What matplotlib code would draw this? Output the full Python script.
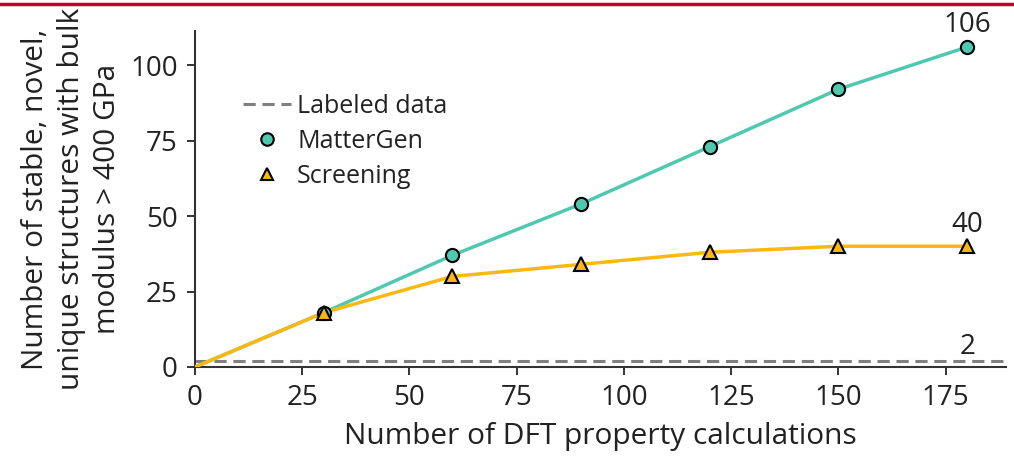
import matplotlib
matplotlib.use("Agg")
import matplotlib.pyplot as plt
from matplotlib.lines import Line2D

plt.rcParams['font.family'] = ['Open Sans', 'DejaVu Sans']

# Data
dft_calcs = [0, 30, 60, 90, 120, 150, 180]
mattergen = [0, 18, 37, 54, 73, 92, 106]
screening = [0, 18, 30, 34, 38, 40, 40]
labeled_data = 2

teal = "#4EC9B0"
gold = "#FBB80F"
text_color = "#222222"

fig = plt.figure(figsize=(10.14, 4.58), dpi=100)
ax = fig.add_axes([0.1923, 0.1987, 0.7995, 0.7336])

ax.axhline(labeled_data, color="#808080", lw=2.2, ls=(0, (4, 2.2)), zorder=1)
ax.plot(dft_calcs, mattergen, color=teal, lw=2.5, zorder=2)
ax.plot(dft_calcs, screening, color=gold, lw=2.5, zorder=3)
ax.plot(dft_calcs[1:], mattergen[1:], ls="none", marker="o", ms=9.5,
        mfc=teal, mec="black", mew=1.5, zorder=4)
ax.plot(dft_calcs[1:], screening[1:], ls="none", marker="^", ms=9.5,
        mfc=gold, mec="black", mew=1.5, zorder=5)

ax.annotate(f"{mattergen[-1]}", (dft_calcs[-1], mattergen[-1]), xytext=(0, 6),
            textcoords="offset points", ha="center", va="bottom",
            fontsize=20, color=text_color)
ax.annotate(f"{screening[-1]}", (dft_calcs[-1], screening[-1]), xytext=(0, 5),
            textcoords="offset points", ha="center", va="bottom",
            fontsize=20, color=text_color)
ax.annotate(f"{labeled_data}", (dft_calcs[-1], labeled_data), xytext=(0, 0),
            textcoords="offset points", ha="center", va="bottom",
            fontsize=20, color=text_color)

ax.set_xlim(0, 189)
ax.set_ylim(0, 111.3)
ax.set_xticks([0, 25, 50, 75, 100, 125, 150, 175])
ax.set_yticks([0, 25, 50, 75, 100])
ax.tick_params(labelsize=20, colors=text_color, length=5.5, width=1.3, pad=7)
for s in ("top", "right"):
    ax.spines[s].set_visible(False)
for s in ("left", "bottom"):
    ax.spines[s].set_color("#333333")
    ax.spines[s].set_linewidth(1.5)

ax.set_xlabel("Number of DFT property calculations", fontsize=21.5,
              color=text_color, labelpad=7)
ax.set_ylabel("Number of stable, novel,\nunique structures with bulk\nmodulus > 400 GPa",
              fontsize=21.5, color=text_color, linespacing=1.3, labelpad=6)

handles = [
    Line2D([], [], color="#808080", lw=2.2, ls=(0, (4, 2.2))),
    Line2D([], [], ls="none", marker="o", ms=9, mfc=teal, mec="black", mew=1.5),
    Line2D([], [], ls="none", marker="^", ms=9, mfc=gold, mec="black", mew=1.5),
]
ax.legend(handles, ["Labeled data", "MatterGen", "Screening"],
          loc="upper left", bbox_to_anchor=(0.032, 0.88), frameon=False,
          fontsize=18, handlelength=1.9, handletextpad=0.25, labelspacing=0.4,
          labelcolor=text_color)

# Thin red rule across the top of the figure
fig.add_artist(Line2D([0, 1], [0.991, 0.991], transform=fig.transFigure,
                      color="#C0002A", lw=2.5))

fig.savefig("out.png", dpi=100)
